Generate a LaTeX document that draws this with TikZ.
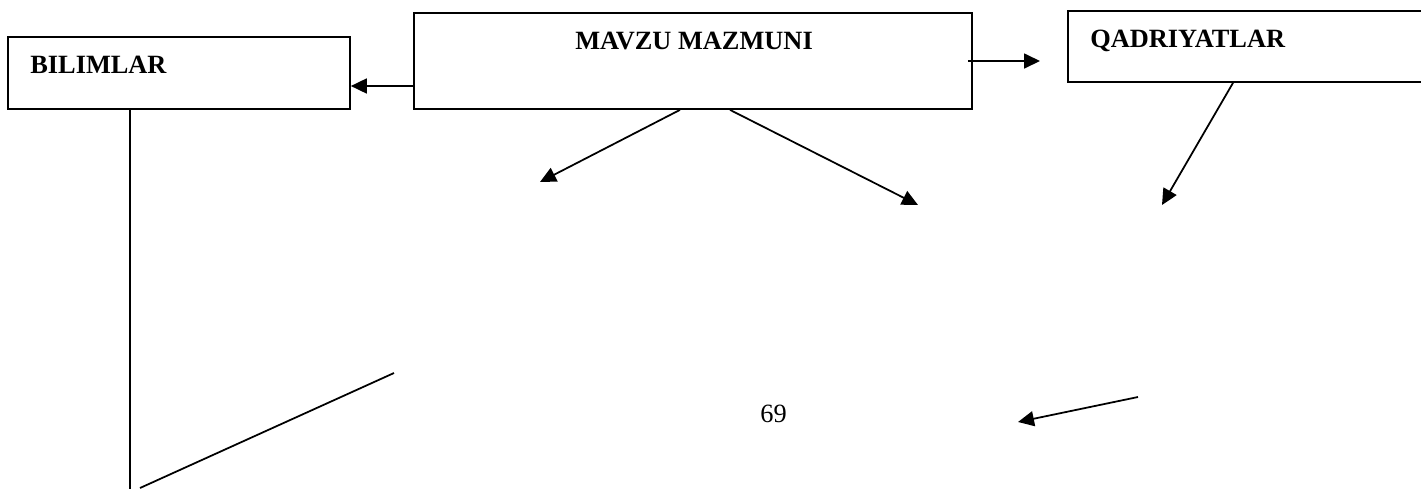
\documentclass[tikz,border=0pt]{standalone}
\usepackage{fontspec}
\setmainfont{Liberation Serif}
\usetikzlibrary{arrows.meta, positioning, calc}

\begin{document}
\begin{tikzpicture}[
    x=0.02cm, y=-0.02cm,
    box/.style={rectangle, draw=black, line width=1pt, inner sep=0pt},
    title/.style={anchor=base west, inner sep=0pt, font=\fontsize{15}{18}\selectfont\bfseries},
    arrow/.style={-{Triangle[length=0.32cm,width=0.3cm]}, line width=1pt},
    link/.style={line width=1pt}
]
\clip (0,0) rectangle (1421,488);
\fill[white] (0,0) rectangle (1421,488);

% boxes
\node[box, minimum width=6.84cm, minimum height=1.44cm] (bilim) at (179,73) {};
\node[box, minimum width=11.16cm, minimum height=1.92cm] (mavzu) at (693,61) {};
\node[box, minimum width=7.44cm, minimum height=1.42cm] (qadr) at (1254,46.5) {};

\node[title] (bilimtxt) at (30,73) {BILIMLAR};
\node[title] (mavzutxt) at (575,49) {MAVZU MAZMUNI};
\node[title] (qadrtxt) at (1090,47) {QADRIYATLAR};
\node[anchor=base west, inner sep=0pt, font=\fontsize{15}{18}\selectfont] (sahifa) at (760,422) {69};

% free ends
\coordinate (qin) at (1040,61);
\coordinate (m1) at (540,182);
\coordinate (m2) at (918,205);
\coordinate (q1) at (1162,205);
\coordinate (b1) at (130,495);
\coordinate (l1) at (140,488);
\coordinate (l2) at (394,373);
\coordinate (r1) at (1138,397);
\coordinate (r2) at (1018,422);

\draw[arrow] ([yshift=-0.5cm]mavzu.west) -- ([yshift=-0.26cm]bilim.east);
\draw[arrow] ([xshift=-0.1cm]mavzu.east) -- (qin);
\draw[arrow] ([xshift=-0.26cm]mavzu.south) -- (m1);
\draw[arrow] ([xshift=0.74cm]mavzu.south) -- (m2);
\draw[arrow] ([xshift=-0.42cm]qadr.south) -- (q1);
\draw[link] ([xshift=-0.98cm]bilim.south) -- (b1);
\draw[link] (l1) -- (l2);
\draw[arrow] (r1) -- (r2);
\end{tikzpicture}
\end{document}
